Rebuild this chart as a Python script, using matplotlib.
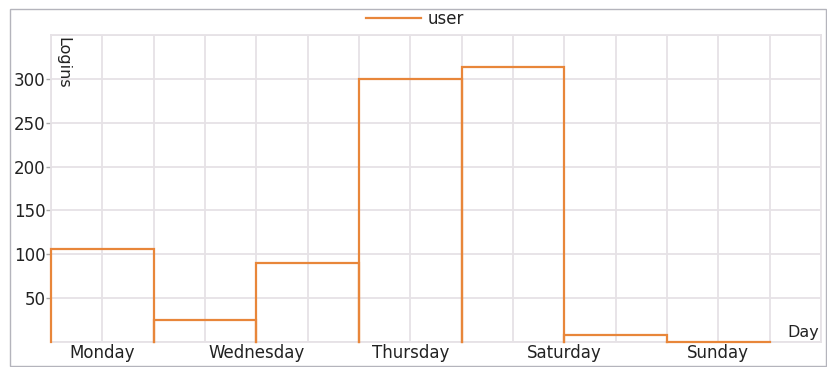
import numpy as np
import matplotlib
matplotlib.use("Agg")
import matplotlib.pyplot as plt
from matplotlib.ticker import FixedLocator, MultipleLocator, FuncFormatter
from matplotlib.patches import Rectangle

# Weekly login counts
days = ["Monday", "Tuesday", "Wednesday", "Thursday", "Friday", "Saturday", "Sunday"]
logins = [106, 25, 90, 300, 314, 8, 0]
series_name = "user"

line_color = "#e8863a"
grid_color = "#e6e2e6"
text_color = "#222222"

plt.rcParams["font.family"] = "DejaVu Sans"

fig = plt.figure(figsize=(8.27, 3.67), dpi=100)
ax = fig.add_axes([0.0617, 0.0681, 0.9310, 0.8365])

# Each day drawn as an open outline: left edge, top, right edge
for i, v in enumerate(logins):
    ax.plot([i, i, i + 1, i + 1], [0, v, v, 0], color=line_color, lw=1.6,
            solid_joinstyle="miter", zorder=3, clip_on=False,
            label=series_name if i == 0 else None)

ax.set_xlim(0, len(days) + 0.5)
ax.set_ylim(0, 350)

# Category labels thinned to every 1.5 units
xt = np.arange(0.5, len(days), 1.5)
ax.xaxis.set_major_locator(FixedLocator(xt))
ax.xaxis.set_major_formatter(FuncFormatter(lambda x, p: days[int(np.floor(x))]))
ax.xaxis.set_minor_locator(MultipleLocator(0.5))
ax.set_yticks([50, 100, 150, 200, 250, 300])
ax.yaxis.set_minor_locator(MultipleLocator(50))

ax.grid(True, which="both", color=grid_color, lw=1.3, zorder=0)
ax.set_axisbelow(True)
ax.tick_params(axis="x", which="both", length=0, labelsize=12, colors=text_color, pad=1.5)
ax.tick_params(axis="y", which="major", length=3.5, width=1, color="#aaaaaa",
               labelsize=12, labelcolor=text_color, pad=0.5)
ax.tick_params(axis="y", which="minor", length=0)
for s in ax.spines.values():
    s.set_color(grid_color)
    s.set_linewidth(1.3)

ax.text(0.006, 0.995, "Logins", transform=ax.transAxes, rotation=270,
        ha="left", va="top", fontsize=11.5, color=text_color)
ax.text(0.997, 0.005, "Day", transform=ax.transAxes,
        ha="right", va="bottom", fontsize=11.5, color=text_color)

fig.legend(loc="upper center", bbox_to_anchor=(0.502, 1.013), frameon=False,
           fontsize=12, handlelength=3.3, handletextpad=0.4,
           labelcolor=text_color)

# Outer frame around the figure
fig.patches.append(Rectangle((10 / 827, 1 / 367), 816 / 827, 357 / 367,
                             transform=fig.transFigure, fill=False,
                             edgecolor="#b4b4bc", lw=1.0))

fig.savefig("out.png", dpi=100, facecolor="white")
